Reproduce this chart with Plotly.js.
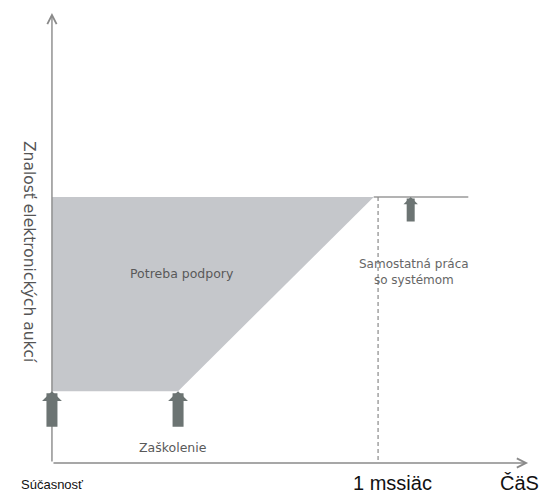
<!DOCTYPE html>
<html><head><meta charset="utf-8">
<script src="https://cdn.plot.ly/plotly-3.0.1.min.js"></script>
<style>html,body{margin:0;padding:0;background:#fff}</style>
</head><body><div id="chart" style="width:542px;height:495px"></div>
<script>
// Time axis (days) and knowledge level values
const supportX = [0, 11.6, 29.6, 0];      // support-need region corners (time)
const supportY = [27, 27, 100, 100];      // support-need region corners (knowledge)
const levelLow = 27;
const levelHigh = 100;
const trainingTime = 11.6;
const monthTime = 30;
const selfWorkLine = [29.6, 38.3];
const arrowXs = [0, 11.6, 33.0];
const arrowYs = [27, 27, 100];
const arrowLen = [13.9, 13.9, 9.8];
const axisEnd = {x: 43.8, y: 169.2};

const labels = {
  yTitle: 'Znalosť elektronických aukcí',
  support: 'Potreba podpory',
  training: 'Zaškolenie',
  selfWork: 'Samostatná práca<br>so systémom',
  now: 'Súčasnosť',
  month: '1 mssiäc',
  time: 'ČäS'
};

const traces = [
  {x: supportX, y: supportY, type: 'scatter', mode: 'lines', fill: 'toself',
   fillcolor: '#c5c7cb', line: {width: 0}, hoverinfo: 'skip'},
  {x: selfWorkLine, y: [levelHigh, levelHigh], type: 'scatter', mode: 'lines',
   line: {color: '#9a9a9a', width: 1.5}, hoverinfo: 'skip'},
  {x: [monthTime, monthTime], y: [levelHigh, 0], type: 'scatter', mode: 'lines',
   line: {color: '#8a8a8a', width: 1.2, dash: '4px,3px'}, hoverinfo: 'skip'}
];

const ann = [];
// axes with open arrowheads
ann.push({x: 0, y: axisEnd.y, ax: 0, ay: 0, xref: 'x', yref: 'y', axref: 'x', ayref: 'y',
  showarrow: true, arrowhead: 5, arrowsize: 1.3, arrowwidth: 1.4, arrowcolor: '#8a8a8a', text: ''});
ann.push({x: axisEnd.x, y: 0, ax: 0, ay: 0, xref: 'x', yref: 'y', axref: 'x', ayref: 'y',
  showarrow: true, arrowhead: 5, arrowsize: 1.3, arrowwidth: 1.4, arrowcolor: '#8a8a8a', text: ''});
// block arrows
arrowXs.forEach((x, i) => {
  const big = i < 2;
  ann.push({x: x, y: arrowYs[i], ax: x, ay: arrowYs[i] - arrowLen[i],
    xref: 'x', yref: 'y', axref: 'x', ayref: 'y', showarrow: true, text: '',
    arrowhead: 1, arrowsize: 0.3, arrowwidth: big ? 11 : 8, arrowcolor: '#6c7473'});
});
const txtFont = {family: 'DejaVu Sans', size: 12.5, color: '#595959'};
ann.push({x: 11.96, y: 71.4, xref: 'x', yref: 'y', text: labels.support, showarrow: false, font: txtFont});
ann.push({x: trainingTime - 0.5, y: 6.0, xref: 'x', yref: 'y', text: labels.training, showarrow: false, font: txtFont});
ann.push({x: 33.3, y: 71.8, xref: 'x', yref: 'y', text: labels.selfWork, showarrow: false,
  font: {family: 'DejaVu Sans', size: 12, color: '#666'}});
ann.push({x: 18/542, y: 1 - 252/495, xref: 'paper', yref: 'paper', text: labels.yTitle, showarrow: false,
  textangle: 90, font: {family: 'DejaVu Sans', size: 15.5, color: '#555'}});
ann.push({x: 19/542, y: 1 - 475/495, xref: 'paper', yref: 'paper', xanchor: 'left', yanchor: 'top', text: labels.now, showarrow: false,
  font: {family: 'Liberation Sans, Arial', size: 13, color: '#111'}});
ann.push({x: 351/542, y: 1 - 470/495, xref: 'paper', yref: 'paper', xanchor: 'left', yanchor: 'top', text: labels.month, showarrow: false,
  font: {family: 'Liberation Sans, Arial', size: 20, color: '#111'}});
ann.push({x: 498/542, y: 1 - 470/495, xref: 'paper', yref: 'paper', xanchor: 'left', yanchor: 'top', text: labels.time, showarrow: false,
  font: {family: 'Liberation Sans, Arial', size: 20, color: '#111'}});

const layout = {
  width: 542, height: 495,
  margin: {l: 0, r: 0, t: 0, b: 0},
  paper_bgcolor: '#fff', plot_bgcolor: '#fff',
  showlegend: false, hovermode: false,
  xaxis: {range: [-4.78, 45.08], visible: false, fixedrange: true},
  yaxis: {range: [-12.03, 174.06], visible: false, fixedrange: true},
  annotations: ann
};
Plotly.newPlot('chart', traces, layout, {displayModeBar: false, staticPlot: true});
</script></body></html>
